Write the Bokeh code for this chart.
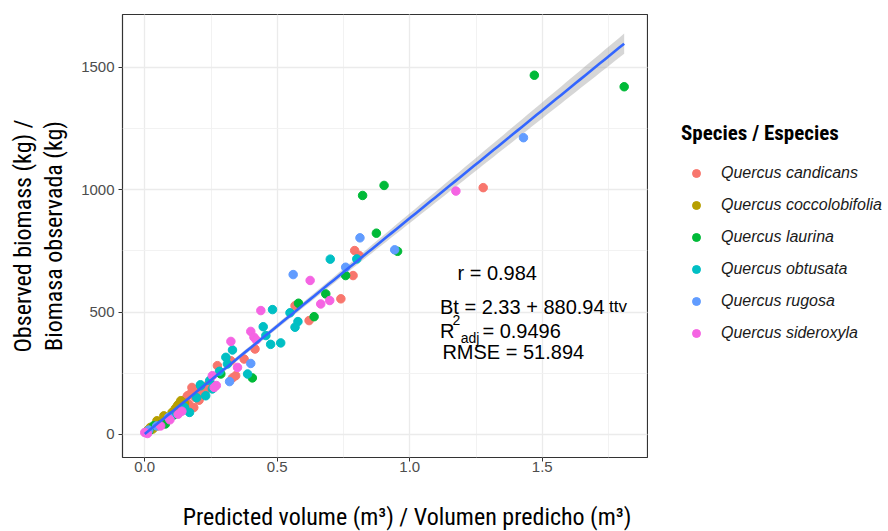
import numpy as np
from bokeh.plotting import figure
from bokeh.layouts import row, column
from bokeh.models import (ColumnDataSource, Legend, LegendItem, Label, Range1d,
                          SingleIntervalTicker, PrintfTickFormatter, BasicTickFormatter)
from bokeh.embed import file_html
from bokeh.resources import INLINE

# ---------------- data ----------------
species = ["Quercus candicans", "Quercus coccolobifolia", "Quercus laurina",
           "Quercus obtusata", "Quercus rugosa", "Quercus sideroxyla"]
colors = ["#F8766D", "#B79F00", "#00BA38", "#00BFC4", "#619CFF", "#F564E3"]

candicans_x = [1.277, 0.792, 0.809, 0.786, 0.740, 0.620, 0.567, 0.416, 0.375, 0.325, 0.274,
               0.331, 0.343, 0.255, 0.180, 0.161, 0.178, 0.172, 0.191, 0.166, 0.185, 0.216,
               0.154, 0.200, 0.205, 0.145, 0.228, 0.240, 0.135, 0.112, 0.080, 0.050]
candicans_y = [1008, 751, 731, 649, 554, 465, 526, 349, 308, 301, 281,
               231, 240, 200, 179, 158, 192, 165, 151, 124, 110, 172,
               145, 185, 140, 120, 178, 205, 112, 95, 60, 35]

coccolobifolia_x = [0.005, 0.012, 0.021, 0.030, 0.038, 0.046, 0.055, 0.064, 0.072, 0.085,
                    0.095, 0.103, 0.115, 0.123, 0.128, 0.136, 0.141, 0.150]
coccolobifolia_y = [10, 18, 29, 22, 35, 56, 42, 50, 76, 62,
                    72, 90, 105, 117, 124, 138, 131, 128]

laurina_x = [1.470, 1.809, 0.903, 0.822, 0.874, 0.954, 0.758, 0.683, 0.580, 0.639,
             0.406, 0.287, 0.110, 0.078, 0.034, 0.060, 0.015]
laurina_y = [1467, 1420, 1017, 976, 822, 748, 649, 574, 536, 481,
             231, 247, 80, 43, 36, 40, 12]

obtusata_x = [0.700, 0.800, 0.482, 0.548, 0.578, 0.567, 0.447, 0.457, 0.475, 0.513,
              0.331, 0.306, 0.312, 0.388, 0.211, 0.230, 0.210, 0.255, 0.169, 0.196,
              0.245, 0.282, 0.150, 0.100]
obtusata_y = [716, 717, 510, 497, 461, 438, 440, 404, 368, 374,
              345, 315, 288, 247, 199, 158, 203, 186, 90, 150,
              220, 258, 110, 75]

rugosa_x = [1.429, 0.812, 0.943, 0.758, 0.560, 0.400, 0.320, 0.015, 0.045, 0.090]
rugosa_y = [1212, 803, 754, 683, 653, 290, 216, 18, 35, 70]

sideroxyla_x = [1.174, 0.624, 0.664, 0.698, 0.438, 0.400, 0.412, 0.421, 0.325, 0.350,
                0.255, 0.262, 0.126, 0.000, 0.010, 0.060, 0.095, 0.140, 0.270]
sideroxyla_y = [994, 629, 533, 547, 506, 421, 397, 386, 380, 274,
                240, 192, 83, 8, 4, 35, 60, 95, 200]

xs = [candicans_x, coccolobifolia_x, laurina_x, obtusata_x, rugosa_x, sideroxyla_x]
ys = [candicans_y, coccolobifolia_y, laurina_y, obtusata_y, rugosa_y, sideroxyla_y]

# model statistics shown on the chart
intercept = 2.33
slope = 880.94
r_value = 0.984
r2_adj = 0.9496
rmse = 51.894

x_ticks_interval = 0.5
y_ticks_interval = 500

x_title = "Predicted volume (m\u00b3) / Volumen predicho (m\u00b3)"
y_title = "Observed biomass (kg) /\nBiomasa observada (kg)"
legend_title = "Species / Especies"

# ---------------- fonts ----------------
NARROW = "'Roboto Condensed', 'DejaVu Sans Condensed', 'Liberation Sans Narrow', sans-serif"
SANS = "Liberation Sans"

# ---------------- main panel ----------------
p = figure(width=648, height=487,
           x_range=Range1d(-0.084, 1.897), y_range=Range1d(-94, 1715),
           output_backend="svg", toolbar_location=None,
           min_border_left=122, min_border_right=1,
           min_border_top=14, min_border_bottom=30)

p.background_fill_color = "white"
p.border_fill_color = "white"
p.outline_line_color = "#333333"
p.outline_line_width = 1.2

p.xaxis.ticker = SingleIntervalTicker(interval=x_ticks_interval, num_minor_ticks=2)
p.yaxis.ticker = SingleIntervalTicker(interval=y_ticks_interval, num_minor_ticks=2)
p.xaxis.formatter = PrintfTickFormatter(format="%.1f")
p.yaxis.formatter = BasicTickFormatter(use_scientific=False)

for ax in (p.xaxis, p.yaxis):
    ax.axis_line_color = None
    ax.major_tick_line_color = "#333333"
    ax.major_tick_out = 4
    ax.major_tick_in = 0
    ax.minor_tick_out = 0
    ax.minor_tick_in = 0
    ax.major_label_text_font = SANS
    ax.major_label_text_font_size = "15px"
    ax.major_label_text_color = "#4d4d4d"
p.xaxis.major_label_standoff = 0
p.yaxis.major_label_standoff = 4

p.yaxis.axis_label = y_title
p.yaxis.axis_label_text_font = NARROW
p.yaxis.axis_label_text_font_style = "normal"
p.yaxis.axis_label_text_font_size = "24px"
p.yaxis.axis_label_text_line_height = 1.1
p.yaxis.axis_label_text_color = "black"
p.yaxis.axis_label_standoff = 10

for g in (p.xgrid, p.ygrid):
    g.grid_line_color = "#ebebeb"
    g.grid_line_width = 1.3
    g.minor_grid_line_color = "#f0f0f0"
    g.minor_grid_line_width = 0.9

# confidence band + regression line
all_x = np.concatenate([np.asarray(a, float) for a in xs])
n = all_x.size
xbar = all_x.mean()
sxx = ((all_x - xbar) ** 2).sum()
xg = np.linspace(all_x.min(), all_x.max(), 100)
yhat = intercept + slope * xg
se = rmse * np.sqrt(1.0 / n + (xg - xbar) ** 2 / sxx)
band = ColumnDataSource(dict(x=xg, lo=yhat - 1.97 * se, hi=yhat + 1.97 * se, y=yhat))
p.varea(x="x", y1="lo", y2="hi", source=band, fill_color="#999999", fill_alpha=0.4)

# points
sources = []
for name, c, xv, yv in zip(species, colors, xs, ys):
    src = ColumnDataSource(dict(x=xv, y=yv))
    sources.append(src)
    p.scatter(x="x", y="y", source=src, size=8.5, fill_color=c, line_color=c)

p.line(x="x", y="y", source=band, line_color="#3366FF", line_width=2.6)

# statistics annotations
def lab(x, y, t, size="20px"):
    p.add_layout(Label(x=x, y=y, text=t, text_font=SANS, text_font_size=size,
                       text_color="black", text_align="left", text_baseline="alphabetic"))

lab(1.180, 658, f"r = {r_value}")
lab(1.114, 519, f"Bt = {intercept} + {slope}")
lab(1.752, 523, "ttv", "17px")
lab(1.114, 422, "R")
lab(1.161, 467, "2", "14px")
lab(1.192, 395, "adj", "14px")
lab(1.274, 422, f"= {r2_adj}")
lab(1.123, 337, f"RMSE = {rmse}")

# ---------------- legend panel (right) ----------------
# same species data, drawn out of this panel's view so only the legend shows
q = figure(width=240, height=487, x_range=Range1d(100, 101), y_range=Range1d(100, 101),
           output_backend="svg", toolbar_location=None,
           x_axis_location=None, y_axis_location=None,
           min_border_left=0, min_border_right=0, min_border_top=0, min_border_bottom=0)
q.outline_line_color = None
q.grid.visible = False
q.background_fill_color = "white"
q.border_fill_color = "white"

items = []
for name, c, src in zip(species, colors, sources):
    r = q.scatter(x="x", y="y", source=src, size=8.5, fill_color=c, line_color=c)
    items.append(LegendItem(label=name, renderers=[r]))

legend = Legend(items=items, title=legend_title, location=(33, 114), orientation="vertical")
legend.title_text_font = NARROW
legend.title_text_font_style = "bold"
legend.title_text_font_size = "21px"
legend.title_text_color = "black"
legend.title_standoff = 18
legend.label_text_font = SANS
legend.label_text_font_style = "italic"
legend.label_text_font_size = "16px"
legend.label_text_color = "#1a1a1a"
legend.glyph_width = 30
legend.glyph_height = 20
legend.label_height = 20
legend.label_standoff = 10
legend.spacing = 12
legend.padding = 0
legend.margin = 0
legend.border_line_color = None
legend.background_fill_alpha = 0
q.add_layout(legend)

# ---------------- x-axis title strip (bottom) ----------------
b = figure(width=888, height=44, x_range=Range1d(0, 888), y_range=Range1d(0, 44),
           output_backend="svg", toolbar_location=None,
           x_axis_location=None, y_axis_location=None,
           min_border_left=0, min_border_right=0, min_border_top=0, min_border_bottom=0)
b.outline_line_color = None
b.grid.visible = False
b.background_fill_color = "white"
b.border_fill_color = "white"
b.add_layout(Label(x=406.5, y=15, text=x_title, text_align="center",
                   text_baseline="alphabetic", text_font=NARROW,
                   text_font_size="24px", text_color="black"))

layout = column(row(p, q, spacing=0), b, spacing=0)
open("out.html", "w").write(file_html(layout, INLINE))
